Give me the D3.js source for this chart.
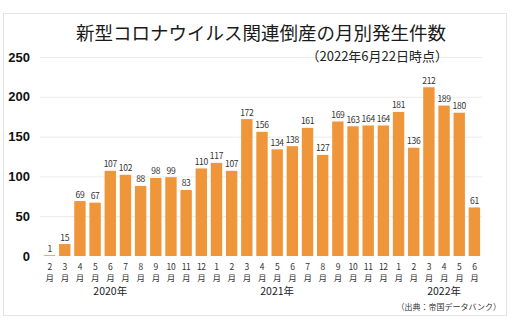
<!DOCTYPE html>
<html lang="ja">
<head>
<meta charset="UTF-8"/>
<script src="https://d3js.org/d3.v7.min.js"></script>
<style>
body { margin: 0; background: #fff; font-family: 'Noto Sans CJK JP', 'Noto Sans', sans-serif; }
svg { display: block; }
text { fill: #222; }
.grid line { stroke: #ebebeb; }
.grid path { stroke-width: 0; }
.yaxis text { font-size: 13px; font-weight: 700; fill: #111; }
.val { font-size: 8.5px; letter-spacing: -0.3px; fill: #333; }
.mon { font-size: 8.5px; letter-spacing: -0.3px; fill: #333; }
.year { font-size: 10.5px; fill: #222; }
.title { font-size: 18.5px; fill: #1a1a1a; }
.sub { font-size: 13px; fill: #222; }
.src { font-size: 8px; fill: #333; }
</style>
</head>
<body>
<svg width="512" height="331"></svg>
<script>
// data
const months = ['2','3','4','5','6','7','8','9','10','11','12',
                '1','2','3','4','5','6','7','8','9','10','11','12',
                '1','2','3','4','5','6'];
const years = [2020,2020,2020,2020,2020,2020,2020,2020,2020,2020,2020,
               2021,2021,2021,2021,2021,2021,2021,2021,2021,2021,2021,2021,
               2022,2022,2022,2022,2022,2022];
const counts = [1,15,69,67,107,102,88,98,99,83,110,
                117,107,172,156,134,138,161,127,169,163,164,164,
                181,136,212,189,180,61];
const yTicks = [0,50,100,150,200,250];
const yearLabels = ['2020年','2021年','2022年'];
const yearAt = ['2020-6','2021-5','2022-4'];

const keys = months.map((m,i) => years[i] + '-' + m);

const svg = d3.select('svg');
const plotL = 42, plotR = 482, plotT = 57, plotB = 256;

// panel
svg.append('rect')
  .attr('x',3.5).attr('y',13.5).attr('width',503).attr('height',302)
  .attr('fill','#fff').attr('stroke','#e4e4e4');

const x = d3.scaleBand().domain(keys).range([plotL,plotR]).paddingInner(0.25).paddingOuter(0.125);
const y = d3.scaleLinear().domain([0,250]).range([plotB,plotT]);

svg.append('g')
  .attr('class','grid')
  .attr('transform',`translate(${plotL - 2},0)`)
  .call(d3.axisLeft(y).tickValues(yTicks.slice(1)).tickSize(-(plotR - plotL + 2)).tickFormat(''));

const ya = svg.append('g')
  .attr('class','yaxis')
  .attr('transform','translate(30,0)')
  .call(d3.axisLeft(y).tickValues(yTicks).tickSize(0).tickPadding(0));
ya.select('.domain').remove();

svg.append('g').selectAll('rect')
  .data(counts)
  .join('rect')
  .attr('x',(d,i) => x(keys[i]))
  .attr('y',d => y(d))
  .attr('width',x.bandwidth())
  .attr('height',d => Math.max(plotB - y(d), 0.8))
  .attr('fill','#f0963a');

svg.append('g').selectAll('text')
  .data(counts)
  .join('text')
  .attr('class','val')
  .attr('text-anchor','middle')
  .attr('x',(d,i) => x(keys[i]) + x.bandwidth()/2)
  .attr('y',d => y(d) - 3.5)
  .text(d => d);

const mx = (d,i) => x(keys[i]) + x.bandwidth()/2;
const mg = svg.append('g');
mg.selectAll('text.mon.num')
  .data(months)
  .join('text')
  .attr('class','mon num')
  .attr('text-anchor','middle')
  .attr('x',mx)
  .attr('y',270)
  .text(d => d);
mg.selectAll('text.mon.tsuki')
  .data(months)
  .join('text')
  .attr('class','mon tsuki')
  .attr('text-anchor','middle')
  .attr('x',mx)
  .attr('y',280.5)
  .text('月');

svg.append('g').selectAll('text')
  .data(yearLabels)
  .join('text')
  .attr('class','year')
  .attr('text-anchor','middle')
  .attr('x',(d,i) => x(yearAt[i]) + x.bandwidth()/2)
  .attr('y',295)
  .text(d => d);

svg.append('text')
  .attr('class','title')
  .attr('text-anchor','middle')
  .attr('x',261).attr('y',40)
  .text('新型コロナウイルス関連倒産の月別発生件数');

svg.append('text')
  .attr('class','sub')
  .attr('text-anchor','end')
  .attr('x',448).attr('y',61)
  .text('（2022年6月22日時点）');

svg.append('text')
  .attr('class','src')
  .attr('text-anchor','end')
  .attr('x',501).attr('y',310)
  .text('（出典：帝国データバンク）');
</script>
</body>
</html>
